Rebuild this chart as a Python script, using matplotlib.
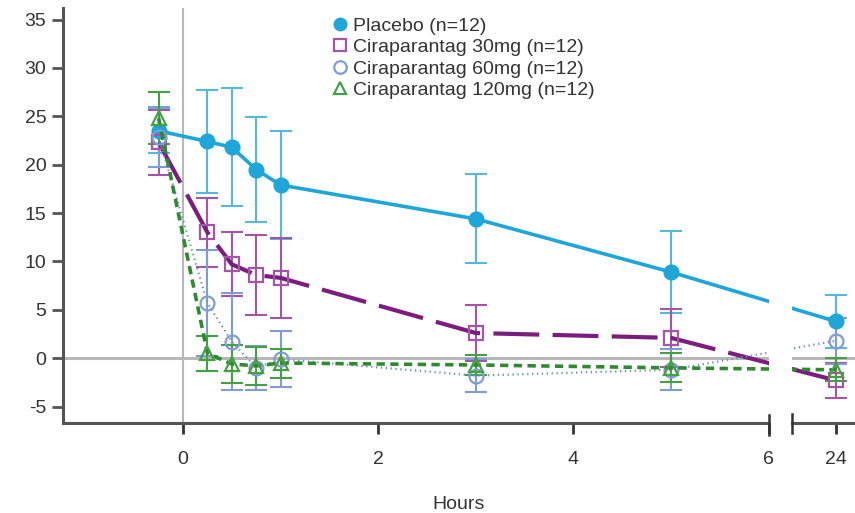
import matplotlib
matplotlib.use("Agg")
import matplotlib.pyplot as plt
from matplotlib.lines import Line2D
import numpy as np

plt.rcParams['font.family'] = ['Liberation Sans', 'DejaVu Sans']
plt.rcParams['axes.unicode_minus'] = False

# data
hours = [-0.25, 0.25, 0.5, 0.75, 1, 3, 5, 24]

placebo = [23.5, 22.4, 21.8, 19.5, 17.9, 14.4, 8.9, 3.8]
placebo_err = [2.3, 5.3, 6.1, 5.4, 5.6, 4.6, 4.2, 2.7]

cira30 = [22.3, 13.0, 9.7, 8.6, 8.3, 2.6, 2.1, -2.3]
cira30_err = [3.4, 3.6, 3.3, 4.1, 4.1, 2.9, 3.0, 1.8]

cira60 = [22.9, 5.7, 1.7, -1.0, -0.1, -1.8, -1.2, 1.8]
cira60_err = [3.1, 5.5, 5.0, 2.3, 2.9, 1.7, 2.1, 2.4]

cira120 = [24.8, 0.5, -0.6, -0.8, -0.5, -0.7, -1.0, -1.2]
cira120_err = [2.7, 1.8, 2.0, 2.0, 1.5, 1.0, 1.5, 1.2]

labels = ['Placebo (n=12)', 'Ciraparantag 30mg (n=12)',
          'Ciraparantag 60mg (n=12)', 'Ciraparantag 120mg (n=12)']

TEXT = '#333333'
AXC = '#555555'
FS = 14

# broken x axis: 6 -> 24 h squeezed into a short stretch
BRK_H = [-50, 6, 24, 80]
BRK_P = [-50, 6, 6.69, 62.69]

def fwd(x):
    return np.interp(x, BRK_H, BRK_P)

def inv(x):
    return np.interp(x, BRK_P, BRK_H)

GAP_END = inv(6.24)
XMIN, XMAX = -1.23, inv(6.885)

fig = plt.figure(figsize=(8.55, 5.13), dpi=100)
ax = fig.add_axes([63 / 855, (513 - 423) / 513, (855 - 63) / 855, (423 - 8) / 513])
ax.set_xscale('function', functions=(fwd, inv))
ax.set_xlim(XMIN, XMAX)
ax.set_ylim(-6.7, 36.2)

ax.axhline(0, color='#b8b8b8', lw=2.2, zorder=1)
ax.axvline(0, color='#b8b8b8', lw=1.5, zorder=1)

series = [
    (placebo, placebo_err, '#1ea5d9', '#55b9de', 'o', dict(ls='-', lw=2.6), '#1ea5d9'),
    (cira30, cira30_err, '#7a1d7e', '#a455a6', 's', dict(ls=(0, (11, 3.2)), lw=3.0), 'none'),
    (cira60, cira60_err, '#6c8fcc', '#7e9dd4', 'o', dict(ls=(0, (0.6, 1.6)), lw=1.6), 'none'),
    (cira120, cira120_err, '#2f8a2f', '#45a045', '^', dict(ls=(0, (2.3, 1.5)), lw=2.6), 'none'),
]

for vals, err, col, ecol, mk, lstyle, face in series:
    ax.errorbar(hours, vals, yerr=err, fmt='none', ecolor=ecol, elinewidth=1.5,
                capsize=8, capthick=1.5, zorder=2)
for vals, err, col, ecol, mk, lstyle, face in series:
    ax.plot(hours, vals, color=col, marker=mk, markersize=10, markerfacecolor=face,
            markeredgecolor=ecol if face == 'none' else col, markeredgewidth=1.6, zorder=3, **lstyle)

# white gap for the axis break
ax.axvspan(6, GAP_END, color='white', zorder=4, lw=0)

for s in ['top', 'right']:
    ax.spines[s].set_visible(False)
for s in ['left', 'bottom']:
    ax.spines[s].set_color(AXC)
    ax.spines[s].set_linewidth(2.2)
ax.spines['bottom'].set_bounds(XMIN, 6)
xt = ax.get_xaxis_transform()
ax.plot([GAP_END, XMAX], [0, 0], transform=xt, color=AXC, lw=2.2, clip_on=False, zorder=5)
ax.plot([6, 6], [-0.028, 0.02], transform=xt, color=TEXT, lw=1.8, clip_on=False, zorder=5)
ax.plot([GAP_END, GAP_END], [-0.024, 0.022], transform=xt, color=TEXT, lw=1.8, clip_on=False, zorder=5)

ax.set_xticks([0, 2, 4, 6, 24])
ax.set_xticklabels(['0', '2', '4', '6', '24'])
ax.minorticks_off()
ax.set_yticks(np.arange(-5, 36, 5))
ax.tick_params(axis='x', length=8, width=2, color=TEXT, pad=12, labelsize=FS, labelcolor=TEXT)
ax.tick_params(axis='y', length=8, width=2, color=AXC, pad=4, labelsize=FS, labelcolor=TEXT)
ax.set_xlabel('Hours', fontsize=FS, color=TEXT, labelpad=20)

handles = [
    Line2D([], [], ls='none', marker='o', markersize=9, color='#1ea5d9'),
    Line2D([], [], ls='none', marker='s', markersize=9, markerfacecolor='none',
           markeredgecolor='#a455a6', markeredgewidth=1.6),
    Line2D([], [], ls='none', marker='o', markersize=9, markerfacecolor='none',
           markeredgecolor='#7e9dd4', markeredgewidth=1.6),
    Line2D([], [], ls='none', marker='^', markersize=9, markerfacecolor='none',
           markeredgecolor='#45a045', markeredgewidth=1.6),
]
leg = fig.legend(handles, labels, loc='upper left', bbox_to_anchor=(332 / 855, 1 - 17 / 513),
                 frameon=False, fontsize=FS, handlelength=0.8, handletextpad=0.3,
                 labelspacing=0.2, borderpad=0, borderaxespad=0)
for t in leg.get_texts():
    t.set_color(TEXT)

fig.savefig('out.png', dpi=100)
